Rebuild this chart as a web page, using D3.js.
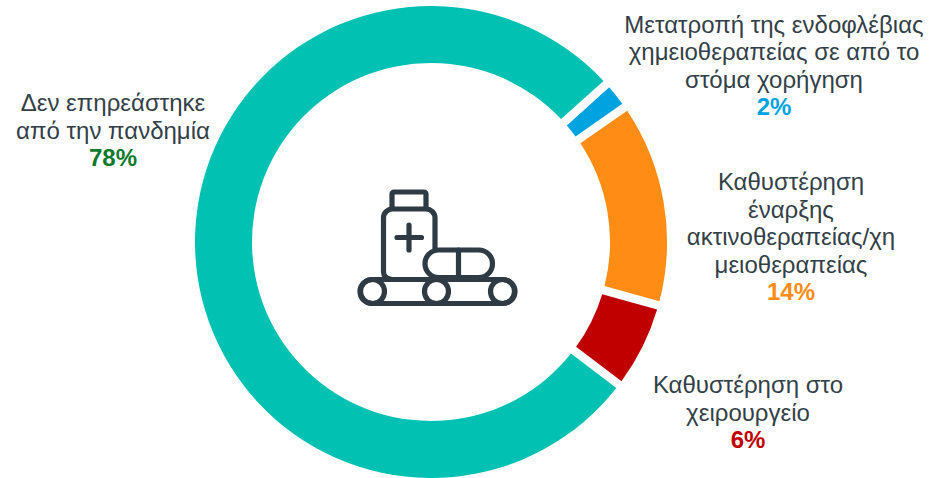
<!DOCTYPE html>
<html><head><meta charset="utf-8">
<script src="https://cdn.jsdelivr.net/npm/d3@7"></script>
<style>html,body{margin:0;padding:0;background:#fff}svg{display:block}text{font-family:"Liberation Sans",Arial,sans-serif}</style>
</head><body><div id="c"></div>
<script>
const categories = ["Μετατροπή","Καθυστέρηση ακτινο","Καθυστέρηση χειρ","Δεν επηρεάστηκε"];
const values = [2,14,6,78];
const colors = ["#00A3E0","#FF8C14","#C00000","#00C1B2"];
const labelLines = [
  ["Μετατροπή της ενδοφλέβιας","χημειοθεραπείας σε από το","στόμα χορήγηση"],
  ["Καθυστέρηση","έναρξης","ακτινοθεραπείας/χη","μειοθεραπείας"],
  ["Καθυστέρηση στο","χειρουργείο"],
  ["Δεν επηρεάστηκε","από την πανδημία"]
];
const pctColors = ["#00A3E0","#FF8C14","#C00000","#0B7A2B"];
const labelPos = [[774,32.5],[791,190],[748,393],[113,111]];
const W=929,H=478,cx=431,cy=242,R=236,r=179;
const svg=d3.select("#c").append("svg").attr("width",W).attr("height",H);
const start=48*Math.PI/180;
const pie=d3.pie().sort(null).value(d=>d).startAngle(start).endAngle(start+2*Math.PI);
const arc=d3.arc().innerRadius(r).outerRadius(R).padAngle(0.036).padRadius(R);
svg.append("g").attr("transform",`translate(${cx},${cy})`)
  .selectAll("path").data(pie(values)).join("path").attr("d",arc).attr("fill",(d,i)=>colors[i]);
const lh=27.5;
labelLines.forEach((lines,i)=>{
  const g=svg.append("text").attr("text-anchor","middle").attr("font-size",24).attr("fill","#333F48");
  lines.forEach((l,j)=>g.append("tspan").attr("x",labelPos[i][0]).attr("y",labelPos[i][1]+j*lh).text(l));
  g.append("tspan").attr("x",labelPos[i][0]).attr("y",labelPos[i][1]+lines.length*lh)
    .attr("font-weight","bold").attr("fill",pctColors[i]).text(values[i]+"%");
});
const ic=svg.append("g").attr("fill","none").attr("stroke","#2E3B45").attr("stroke-width",5.2).attr("stroke-linecap","round").attr("stroke-linejoin","round");
ic.append("path").attr("d","M392 208V194a2 2 0 0 1 2-2H424a2 2 0 0 1 2 2V208");
ic.append("path").attr("d","M435 248V218a9 9 0 0 0-9-9H392.500a9 9 0 0 0-9 9V272a7 7 0 0 0 7 7");
ic.append("path").attr("d","M397 237.500H421.500M409 225V250");
ic.append("rect").attr("x",425).attr("y",250).attr("width",67.500).attr("height",27.500).attr("rx",13.700);
ic.append("path").attr("d","M458.500 250V277");
ic.append("rect").attr("x",360).attr("y",279.500).attr("width",155).attr("height",24).attr("rx",12);
[372.500,436.500,502.500].forEach(x=>ic.append("circle").attr("cx",x).attr("cy",291.500).attr("r",12));
</script></body></html>
